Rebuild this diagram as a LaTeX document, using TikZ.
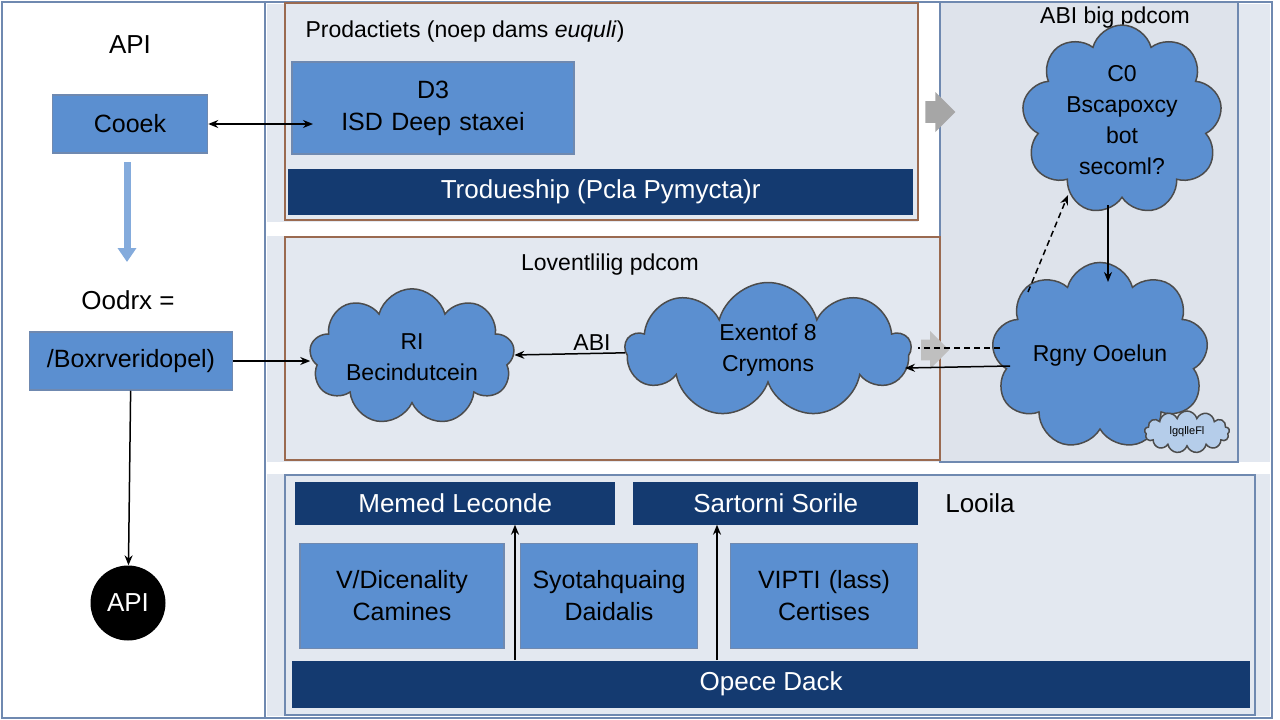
\documentclass[tikz,border=0pt]{standalone}
\usepackage{fontspec}
\setmainfont{Liberation Sans}
\usetikzlibrary{arrows,arrows.meta,shapes.symbols,shapes.arrows}

\definecolor{panel}{HTML}{E3E8F0}
\definecolor{boxblue}{HTML}{5B8FD0}
\definecolor{navy}{HTML}{143A70}
\definecolor{frameblue}{HTML}{6F89B0}
\definecolor{brownline}{HTML}{9A6A50}

\tikzset{
  blue box/.style={draw=frameblue,fill=boxblue,line width=1.5pt,text width=#1,align=center,
    font=\fontsize{25}{32}\selectfont,minimum height=58pt,inner sep=0pt},
  navy bar/.style={fill=navy,text=white,font=\fontsize{26}{28}\selectfont,
    minimum height=43pt,anchor=west},
  blob/.style={cloud,cloud puffs=9,aspect=1.6,draw=black!70,fill=boxblue,line width=1.5pt,
    align=center,font=\fontsize{23}{31}\selectfont,inner sep=0pt},
  link/.style={-{Stealth[length=10pt,width=8pt]},line width=1.5pt}
}

\begin{document}
\begin{tikzpicture}[x=1pt,y=-1pt]
\useasboundingbox (0,0) rectangle (1280,720);
\fill[white] (0,0) rectangle (1280,720);

% frames
\draw[frameblue,line width=2pt] (2,2) rectangle (1272,718);
\draw[frameblue,line width=2pt] (265,2) -- (265,718);
\fill[panel] (267,4) rectangle (1270,716);
\fill[white] (267,222) rectangle (940,236);
\fill[white] (267,462) rectangle (1270,474);
\fill[white] (918,4) rectangle (940,222);
\draw[frameblue,line width=1.5pt,fill=black!2!panel] (940,2) rectangle (1238,462);
\draw[brownline,line width=1.5pt,fill=panel] (285,3) rectangle (918,220);
\draw[brownline,line width=1.5pt,fill=panel] (285,237) rectangle (940,460);
\draw[frameblue,line width=1.5pt,fill=panel] (285,475) rectangle (1255,715);

% top box
\node[font=\fontsize{23}{25}\selectfont] (topT) at (465,32) {Prodactiets (noep dams \textit{euquli})};
\node[blue box=282pt,minimum height=92pt] (d3) at (433,108) {D3\\ISD Deep staxei};
\node[navy bar,minimum width=625pt,minimum height=46pt] (trod) at (288,192) {Trodueship (Pcla Pymycta)r};

% right panel
\node[font=\fontsize{23}{25}\selectfont] (abiT) at (1115,18) {ABI big pdcom};
\node[blob,aspect=1.1,minimum width=195pt,minimum height=165pt] (c0) at (1122,120) {C0\\Bscapoxcy\\bot\\secoml?};
\node[blob,aspect=1.3,minimum width=210pt,minimum height=170pt] (rgny) at (1100,356) {Rgny Ooelun};
\node[blob,cloud puffs=13,aspect=2.2,minimum width=85pt,minimum height=42pt,
  fill=boxblue!45,font=\fontsize{11}{12}\selectfont] (lgq) at (1187,432) {lgqlleFl};
\node[single arrow,fill=black!35,minimum height=30pt,minimum width=40pt,
  single arrow head extend=3pt] (ga1) at (935,112) {};
\node[single arrow,fill=black!25,minimum height=28pt,minimum width=38pt,
  single arrow head extend=3pt] (ga2) at (930,350) {};

% middle box
\node[font=\fontsize{23}{25}\selectfont] (midT) at (610,265) {Loventlilig pdcom};
\node[blob,aspect=2,minimum width=205pt,minimum height=115pt] (rb) at (412,357) {RI\\Becindutcein};
\node[blob,aspect=2,minimum width=285pt,minimum height=135pt] (ex) at (768,350) {Exentof 8\\Crymons};
\node[font=\fontsize{23}{25}\selectfont] (abiL) at (592,343) {ABI};

% bottom box
\node[navy bar,minimum width=320pt] (mem) at (295,503) {Memed Leconde};
\node[navy bar,minimum width=285pt] (sar) at (633,503) {Sartorni Sorile};
\node[font=\fontsize{26}{28}\selectfont] (loo) at (980,503) {Looila};
\node[blue box=204pt,minimum height=105pt] (vdi) at (402,596) {V/Dicenality\\Camines};
\node[blue box=177pt,minimum height=105pt] (syo) at (609,596) {Syotahquaing\\Daidalis};
\node[blue box=187pt,minimum height=105pt] (vip) at (824,596) {VIPTI (lass)\\Certises};
\node[navy bar,minimum width=958pt,minimum height=47pt] (ope) at (292,684) {Opece Dack};
\coordinate (m1) at (515,660);
\coordinate (m2) at (717,660);

% left panel
\node[font=\fontsize{26}{28}\selectfont] (apiT) at (130,45) {API};
\node[blue box=155pt] (coo) at (130,124) {Cooek};
\node[font=\fontsize{26}{28}\selectfont] (ood) at (128,300) {Oodrx =};
\node[blue box=203pt] (box) at (131,361) {/Boxrveridopel)};
\node[circle,fill=black,text=white,minimum size=75pt,font=\fontsize{26}{28}\selectfont] (api) at (128,603) {API};

% connectors
\draw[{Stealth[length=10pt,width=8pt]}-{Stealth[length=10pt,width=8pt]},line width=1.5pt] (coo) -- (313,124);
\draw[-{Triangle[width=18pt,length=14pt]},line width=7pt,boxblue!75] (127,162) -- (127,262);
\draw[link] (box) -- (rb.west|-box);
\draw[link] (box) -- (api);
\draw[link] (ex) -- (rb);
\draw[link] (rgny) ++(-90,10) -- (905,368);
\draw[line width=1.5pt,dash pattern=on 6pt off 4pt] (1000,348) -- (918,348);
\draw[link,dash pattern=on 6pt off 4pt] (1028,292) -- (1068,195);
\draw[link] (1108,205) -- (1108,282);
\draw[link] (m1) -- (m1|-mem.south);
\draw[link] (m2) -- (m2|-sar.south);
\end{tikzpicture}
\end{document}
